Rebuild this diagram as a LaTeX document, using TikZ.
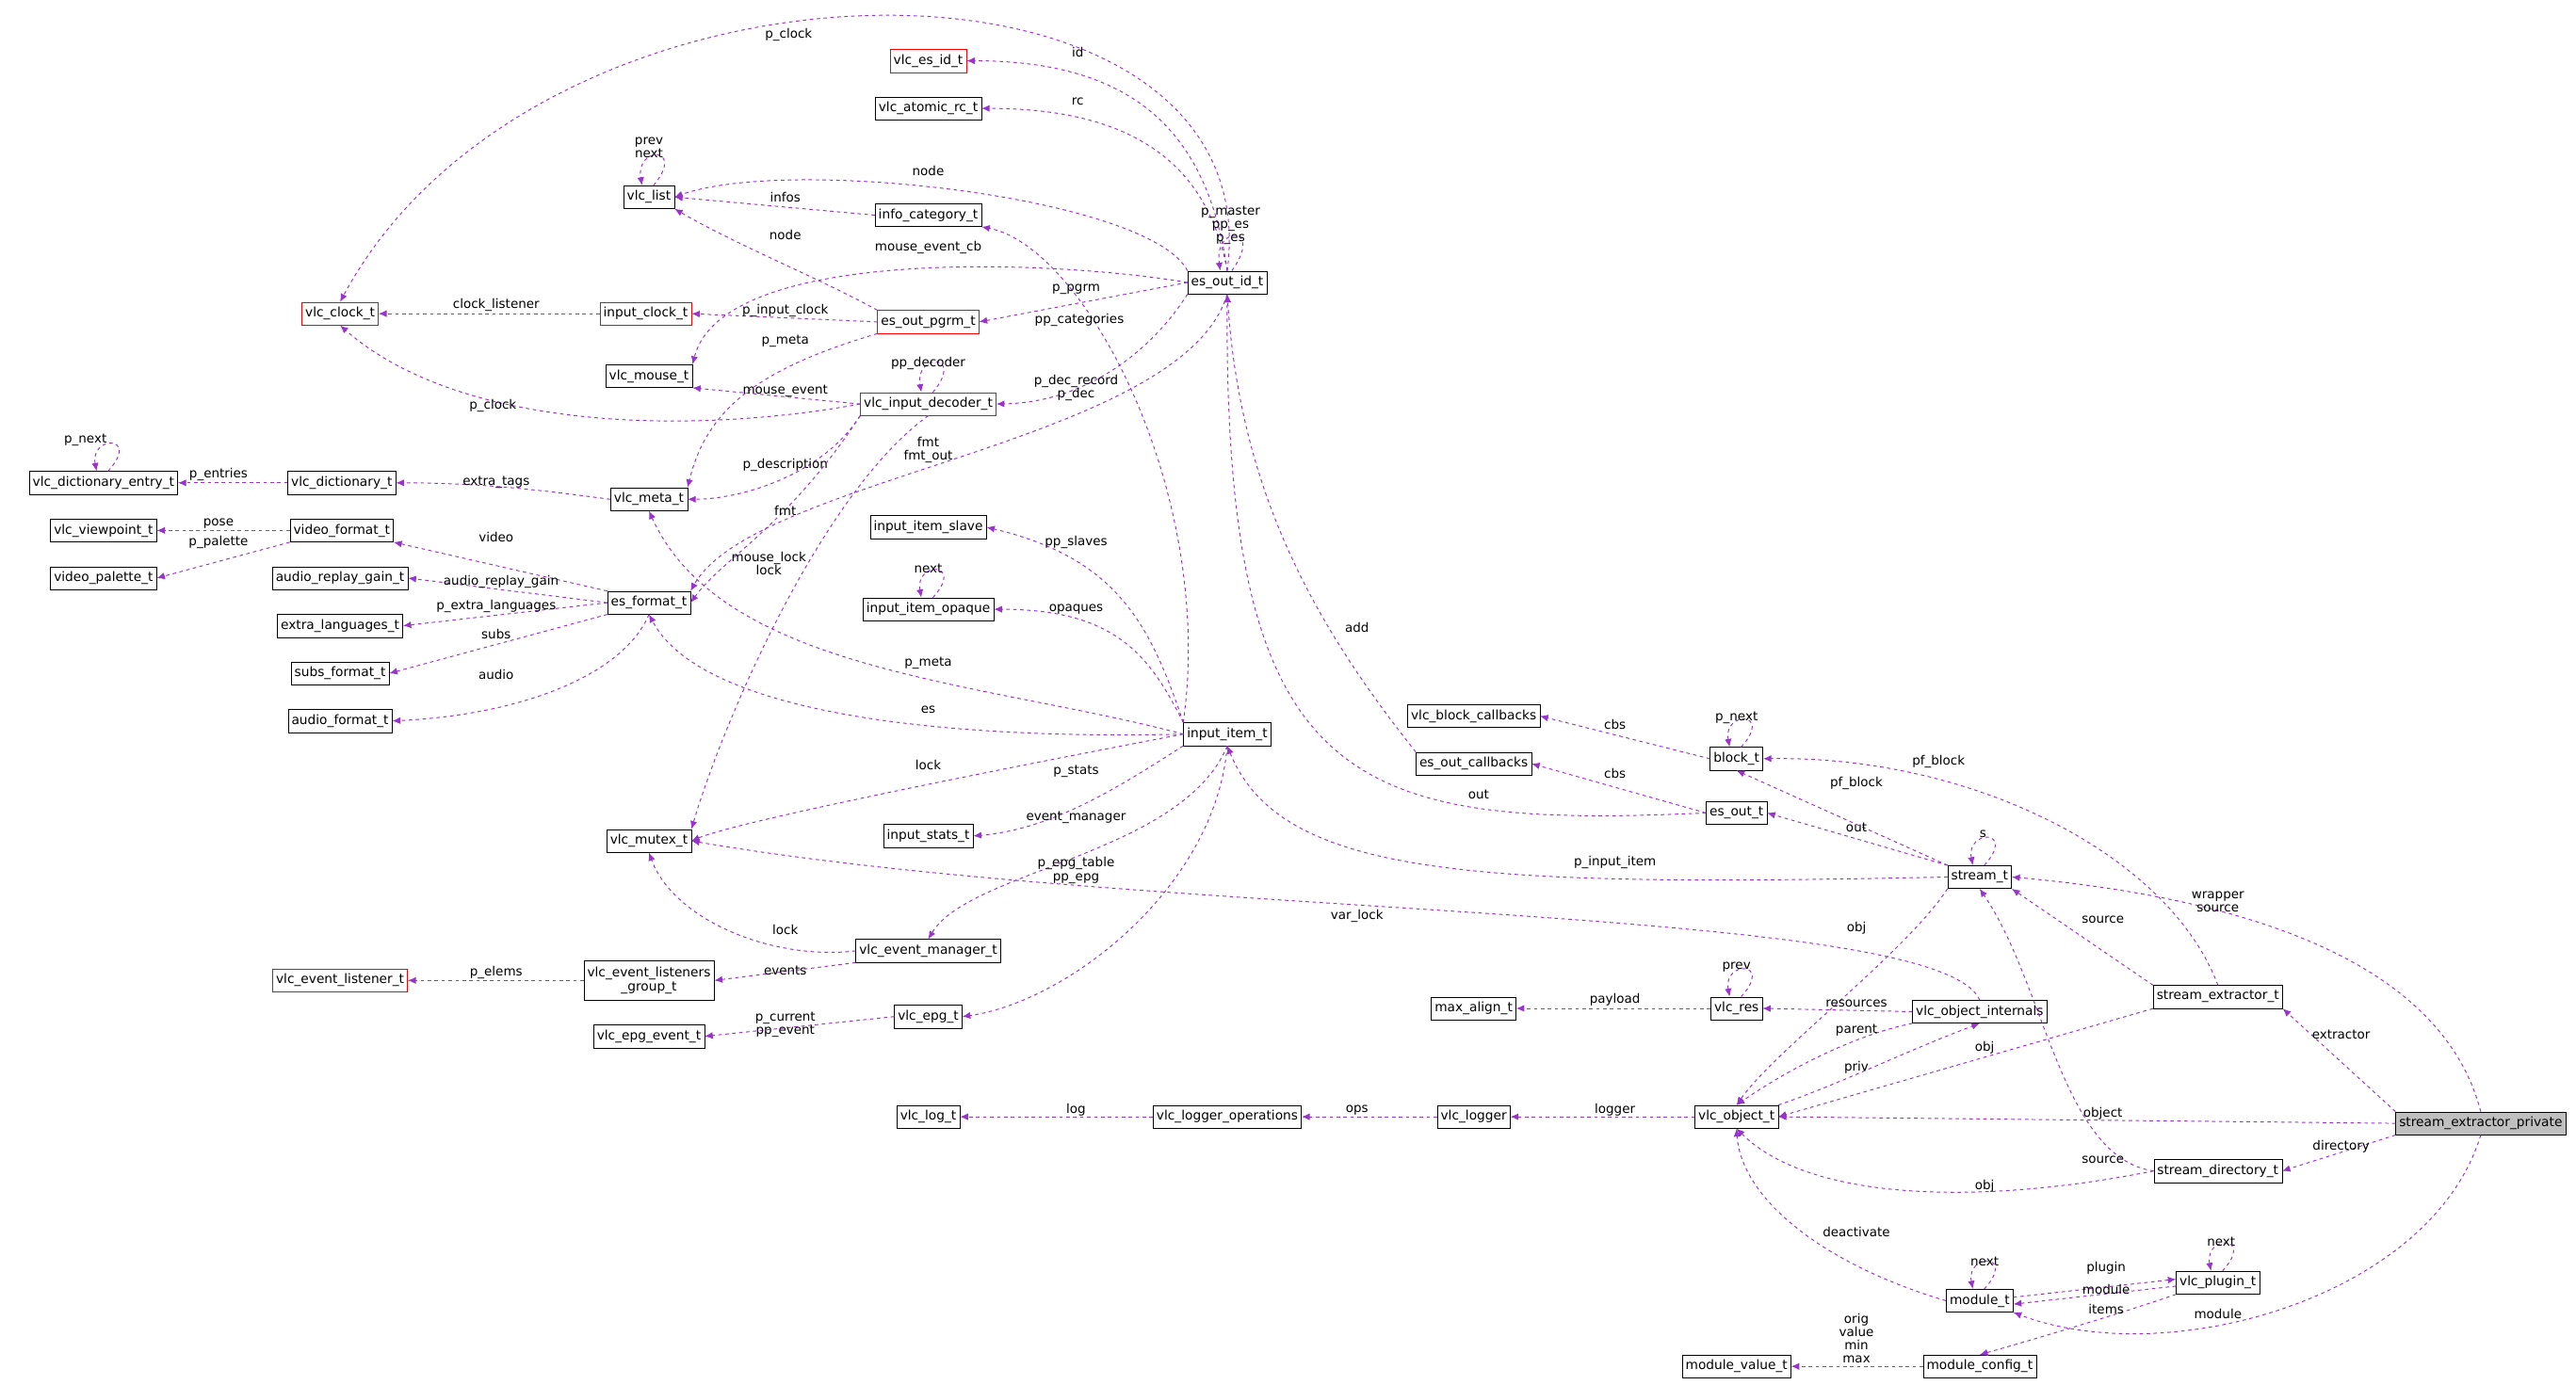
\documentclass[tikz,border=0pt]{standalone}
\usepackage{fontspec}
\setmainfont{DejaVu Sans}
\usetikzlibrary{arrows.meta}
\definecolor{usecol}{HTML}{9A32CD}
\tikzset{
  cls/.style={draw=black, fill=white, inner xsep=3pt, inner ysep=0pt, minimum height=0.7cm, font=\fontsize{11.2}{12.5}\selectfont, align=center},
  redcls/.style={cls, draw=red},
  maincls/.style={cls, fill=black!25},
  use/.style={dashed, usecol, thick, -{Latex[length=7pt,width=6pt]}},
  lbl/.style={black, inner sep=0pt, font=\fontsize{11}{11.5}\selectfont, align=center}
}
\begin{document}
\begin{tikzpicture}[x=0.05cm, y=-0.05cm]
  \useasboundingbox (0,0) rectangle (1568,843);
  % classes
  \node[redcls] (vlc_clock_t) at (207,191) {vlc\_clock\_t};
  \node[redcls] (vlc_es_id_t) at (565,37) {vlc\_es\_id\_t};
  \node[cls] (vlc_atomic_rc_t) at (565,66) {vlc\_atomic\_rc\_t};
  \node[cls] (vlc_list) at (395,120) {vlc\_list};
  \node[cls] (info_category_t) at (565,131) {info\_category\_t};
  \node[redcls] (input_clock_t) at (393,191) {input\_clock\_t};
  \node[redcls] (es_out_pgrm_t) at (565,196) {es\_out\_pgrm\_t};
  \node[cls] (es_out_id_t) at (747,172) {es\_out\_id\_t};
  \node[cls] (vlc_mouse_t) at (395,229) {vlc\_mouse\_t};
  \node[redcls] (vlc_input_decoder_t) at (565,246) {vlc\_input\_decoder\_t};
  \node[cls] (vlc_dictionary_entry_t) at (63,294) {vlc\_dictionary\_entry\_t};
  \node[cls] (vlc_dictionary_t) at (208,294) {vlc\_dictionary\_t};
  \node[cls] (vlc_meta_t) at (395,304) {vlc\_meta\_t};
  \node[cls] (vlc_viewpoint_t) at (63,323) {vlc\_viewpoint\_t};
  \node[cls] (video_format_t) at (208,323) {video\_format\_t};
  \node[cls] (video_palette_t) at (63,352) {video\_palette\_t};
  \node[cls] (input_item_slave) at (565,321) {input\_item\_slave};
  \node[cls] (audio_replay_gain_t) at (207,352) {audio\_replay\_gain\_t};
  \node[cls] (es_format_t) at (395,367) {es\_format\_t};
  \node[cls] (input_item_opaque) at (565,371) {input\_item\_opaque};
  \node[cls] (extra_languages_t) at (207,381) {extra\_languages\_t};
  \node[cls] (subs_format_t) at (207,410) {subs\_format\_t};
  \node[cls] (audio_format_t) at (207,439) {audio\_format\_t};
  \node[cls] (input_item_t) at (747,447) {input\_item\_t};
  \node[cls] (vlc_block_callbacks) at (897,436) {vlc\_block\_callbacks};
  \node[cls] (block_t) at (1057,462) {block\_t};
  \node[cls] (es_out_callbacks) at (897,465) {es\_out\_callbacks};
  \node[cls] (es_out_t) at (1057,495) {es\_out\_t};
  \node[cls] (vlc_mutex_t) at (395,512) {vlc\_mutex\_t};
  \node[cls] (input_stats_t) at (565,509) {input\_stats\_t};
  \node[cls] (stream_t) at (1205,534) {stream\_t};
  \node[redcls] (vlc_event_listener_t) at (207,597) {vlc\_event\_listener\_t};
  \node[cls, minimum height=1.2cm] (vlc_event_listeners_group_t) at (395,597) {vlc\_event\_listeners\\\_group\_t};
  \node[cls] (vlc_event_manager_t) at (565,579) {vlc\_event\_manager\_t};
  \node[cls] (stream_extractor_t) at (1350,607) {stream\_extractor\_t};
  \node[cls] (max_align_t) at (897,614) {max\_align\_t};
  \node[cls] (vlc_res) at (1057,614) {vlc\_res};
  \node[cls] (vlc_object_internals) at (1205,616) {vlc\_object\_internals};
  \node[cls] (vlc_epg_event_t) at (395,631) {vlc\_epg\_event\_t};
  \node[cls] (vlc_epg_t) at (565,619) {vlc\_epg\_t};
  \node[cls] (vlc_log_t) at (565,680) {vlc\_log\_t};
  \node[cls] (vlc_logger_operations) at (747,680) {vlc\_logger\_operations};
  \node[cls] (vlc_logger) at (897,680) {vlc\_logger};
  \node[cls] (vlc_object_t) at (1057,680) {vlc\_object\_t};
  \node[maincls] (stream_extractor_private) at (1510,684) {stream\_extractor\_private};
  \node[cls] (stream_directory_t) at (1350,713) {stream\_directory\_t};
  \node[cls] (vlc_plugin_t) at (1350,781) {vlc\_plugin\_t};
  \node[cls] (module_t) at (1205,792) {module\_t};
  \node[cls] (module_value_t) at (1057,832) {module\_value\_t};
  \node[cls] (module_config_t) at (1205,832) {module\_config\_t};

  % es_out_id_t
  \draw[use] (es_out_id_t.north) .. controls (775,-45) and (330,-45) .. (vlc_clock_t.north) node[lbl] at (480,21) {p\_clock};
  \draw[use] (es_out_id_t.north) .. controls (735,80) and (690,37) .. (vlc_es_id_t.east) node[lbl] at (656,32) {id};
  \draw[use] (es_out_id_t.north) .. controls (735,100) and (690,66) .. (vlc_atomic_rc_t.east) node[lbl] at (656,62) {rc};
  \draw[use] (es_out_id_t.north west) .. controls (700,120) and (480,95) .. (vlc_list.east) node[lbl] at (565,104) {node};
  \draw[use] ([xshift=4pt]es_out_id_t.north) .. controls +(20,-28) and +(-4,-28) .. ([xshift=-6pt]es_out_id_t.north) node[lbl] at (749,137) {p\_master\\pp\_es\\p\_es};
  \draw[use] (es_out_id_t.west) .. controls (640,158) and (440,150) .. (vlc_mouse_t.north east) node[lbl] at (565,151) {mouse\_event\_cb};
  \draw[use] (es_out_id_t.west) -- (es_out_pgrm_t.east) node[lbl] at (655,176) {p\_pgrm};
  \draw[use] (es_out_id_t.south west) .. controls (700,215) and (660,245) .. (vlc_input_decoder_t.east) node[lbl] at (655,236) {p\_dec\_record\\p\_dec};
  \draw[use] (es_out_id_t.south) .. controls (720,270) and (460,290) .. (es_format_t.north east) node[lbl] at (565,274) {fmt\\fmt\_out};
  \draw[use] ([xshift=4pt]vlc_list.north) .. controls +(20,-24) and +(-4,-24) .. ([xshift=-6pt]vlc_list.north) node[lbl] at (395,90) {prev\\next};
  \draw[use] (info_category_t.west) -- (vlc_list.east) node[lbl] at (478,120) {infos};
  % es_out_pgrm_t
  \draw[use] (es_out_pgrm_t.north west) .. controls (500,170) and (450,150) .. (vlc_list.south east) node[lbl] at (478,143) {node};
  \draw[use] (es_out_pgrm_t.west) -- (input_clock_t.east) node[lbl] at (478,189) {p\_input\_clock};
  \draw[use] (es_out_pgrm_t.south west) .. controls (460,225) and (430,250) .. (vlc_meta_t.north east) node[lbl] at (478,208) {p\_meta};
  \draw[use] (input_clock_t.west) -- (vlc_clock_t.east) node[lbl] at (302,186) {clock\_listener};
  % vlc_input_decoder_t
  \draw[use] (vlc_input_decoder_t.west) .. controls (420,265) and (280,262) .. (vlc_clock_t.south) node[lbl] at (300,247) {p\_clock};
  \draw[use] (vlc_input_decoder_t.west) -- (vlc_mouse_t.south east) node[lbl] at (478,238) {mouse\_event};
  \draw[use] ([xshift=4pt]vlc_input_decoder_t.north) .. controls +(20,-24) and +(-4,-24) .. ([xshift=-6pt]vlc_input_decoder_t.north) node[lbl] at (565,221) {pp\_decoder};
  \draw[use] (vlc_input_decoder_t.south west) .. controls (500,290) and (450,304) .. (vlc_meta_t.east) node[lbl] at (478,283) {p\_description};
  \draw[use] (vlc_input_decoder_t.south west) .. controls (480,320) and (440,340) .. (es_format_t.east) node[lbl] at (478,311) {fmt};
  \draw[use] (vlc_input_decoder_t.south) .. controls (500,300) and (440,440) .. (vlc_mutex_t.north east) node[lbl] at (468,343) {mouse\_lock\\lock};
  % dictionaries and formats
  \draw[use] ([xshift=4pt]vlc_dictionary_entry_t.north) .. controls +(20,-22) and +(-4,-22) .. ([xshift=-6pt]vlc_dictionary_entry_t.north) node[lbl] at (52,268) {p\_next};
  \draw[use] (vlc_dictionary_t.west) -- (vlc_dictionary_entry_t.east) node[lbl] at (133,289) {p\_entries};
  \draw[use] (vlc_meta_t.west) .. controls (340,300) and (300,294) .. (vlc_dictionary_t.east) node[lbl] at (302,294) {extra\_tags};
  \draw[use] (video_format_t.west) -- (vlc_viewpoint_t.east) node[lbl] at (133,319) {pose};
  \draw[use] (video_format_t.south west) -- (video_palette_t.east) node[lbl] at (133,330) {p\_palette};
  \draw[use] (es_format_t.north west) -- (video_format_t.south east) node[lbl] at (302,327) {video};
  \draw[use] (es_format_t.west) -- (audio_replay_gain_t.east) node[lbl] at (305,354) {audio\_replay\_gain};
  \draw[use] (es_format_t.west) -- (extra_languages_t.east) node[lbl] at (302,369) {p\_extra\_languages};
  \draw[use] (es_format_t.south west) -- (subs_format_t.east) node[lbl] at (302,386) {subs};
  \draw[use] (es_format_t.south) .. controls (380,410) and (320,435) .. (audio_format_t.east) node[lbl] at (302,411) {audio};
  % input_item_t
  \draw[use] (input_item_t.north west) .. controls (740,300) and (660,150) .. (info_category_t.south east) node[lbl] at (657,195) {pp\_categories};
  \draw[use] (input_item_t.north west) .. controls (700,380) and (680,340) .. (input_item_slave.east) node[lbl] at (655,330) {pp\_slaves};
  \draw[use] ([xshift=4pt]input_item_opaque.north) .. controls +(20,-22) and +(-4,-22) .. ([xshift=-6pt]input_item_opaque.north) node[lbl] at (565,346) {next};
  \draw[use] (input_item_t.north west) .. controls (700,400) and (680,371) .. (input_item_opaque.east) node[lbl] at (655,371) {opaques};
  \draw[use] (input_item_t.west) .. controls (600,415) and (440,410) .. (vlc_meta_t.south) node[lbl] at (565,404) {p\_meta};
  \draw[use] (input_item_t.west) .. controls (600,450) and (430,440) .. (es_format_t.south) node[lbl] at (565,432) {es};
  \draw[use] (input_item_t.west) .. controls (600,470) and (450,500) .. (vlc_mutex_t.east) node[lbl] at (565,466) {lock};
  \draw[use] (input_item_t.south west) .. controls (680,480) and (640,505) .. (input_stats_t.east) node[lbl] at (655,470) {p\_stats};
  \draw[use] (input_item_t.south) .. controls (720,520) and (590,530) .. (vlc_event_manager_t.north) node[lbl] at (655,498) {event\_manager};
  \draw[use] (input_item_t.south) .. controls (740,540) and (650,610) .. (vlc_epg_t.east) node[lbl] at (655,530) {p\_epg\_table\\pp\_epg};
  \draw[use] (vlc_event_manager_t.west) .. controls (470,585) and (410,560) .. (vlc_mutex_t.south) node[lbl] at (478,566) {lock};
  \draw[use] (vlc_event_manager_t.south west) -- (vlc_event_listeners_group_t.east) node[lbl] at (478,591) {events};
  \draw[use] (vlc_event_listeners_group_t.west) -- (vlc_event_listener_t.east) node[lbl] at (302,592) {p\_elems};
  \draw[use] (vlc_epg_t.west) -- (vlc_epg_event_t.east) node[lbl] at (478,624) {p\_current\\pp\_event};
  % block, es_out
  \draw[use] (es_out_callbacks.north west) .. controls (800,380) and (755,300) .. (es_out_id_t.south) node[lbl] at (826,382) {add};
  \draw[use] (block_t.west) -- (vlc_block_callbacks.east) node[lbl] at (983,441) {cbs};
  \draw[use] ([xshift=4pt]block_t.north) .. controls +(20,-22) and +(-4,-22) .. ([xshift=-6pt]block_t.north) node[lbl] at (1057,437) {p\_next};
  \draw[use] (es_out_t.west) -- (es_out_callbacks.east) node[lbl] at (983,471) {cbs};
  \draw[use] (es_out_t.west) .. controls (820,505) and (745,480) .. (es_out_id_t.south) node[lbl] at (900,484) {out};
  % stream_t
  \draw[use] (stream_t.north west) -- (block_t.south) node[lbl] at (1130,477) {pf\_block};
  \draw[use] (stream_t.north west) -- (es_out_t.east) node[lbl] at (1130,504) {out};
  \draw[use] ([xshift=4pt]stream_t.north) .. controls +(20,-22) and +(-4,-22) .. ([xshift=-6pt]stream_t.north) node[lbl] at (1207,508) {s};
  \draw[use] (stream_t.west) .. controls (900,540) and (780,535) .. (input_item_t.south) node[lbl] at (983,525) {p\_input\_item};
  \draw[use] (stream_t.south west) .. controls (1160,580) and (1080,640) .. (vlc_object_t.north) node[lbl] at (1130,565) {obj};
  % object internals
  \draw[use] (vlc_object_internals.north) .. controls (1180,550) and (700,560) .. (vlc_mutex_t.east) node[lbl] at (826,558) {var\_lock};
  \draw[use] (vlc_object_internals.west) -- (vlc_res.east) node[lbl] at (1130,611) {resources};
  \draw[use] (vlc_object_internals.south west) .. controls (1130,630) and (1090,650) .. (vlc_object_t.north) node[lbl] at (1130,627) {parent};
  \draw[use] (vlc_object_t.north east) .. controls (1120,660) and (1160,640) .. (vlc_object_internals.south) node[lbl] at (1130,650) {priv};
  \draw[use] ([xshift=4pt]vlc_res.north) .. controls +(20,-22) and +(-4,-22) .. ([xshift=-6pt]vlc_res.north) node[lbl] at (1057,589) {prev};
  \draw[use] (vlc_res.west) -- (max_align_t.east) node[lbl] at (983,609) {payload};
  % stream extractor
  \draw[use] (stream_extractor_t.north) .. controls (1320,520) and (1200,460) .. (block_t.east) node[lbl] at (1180,464) {pf\_block};
  \draw[use] (stream_extractor_t.north west) -- (stream_t.south east) node[lbl] at (1280,560) {source};
  \draw[use] (stream_extractor_t.south west) -- (vlc_object_t.east) node[lbl] at (1208,638) {obj};
  \draw[use] (stream_extractor_private.north) .. controls (1490,600) and (1400,550) .. (stream_t.east) node[lbl] at (1350,549) {wrapper\\source};
  \draw[use] (stream_extractor_private.north west) -- (stream_extractor_t.south east) node[lbl] at (1425,630) {extractor};
  \draw[use] (stream_extractor_private.west) -- (vlc_object_t.east) node[lbl] at (1280,678) {object};
  \draw[use] (stream_extractor_private.south west) -- (stream_directory_t.east) node[lbl] at (1425,698) {directory};
  \draw[use] (stream_extractor_private.south) .. controls (1480,790) and (1320,835) .. (module_t.south east) node[lbl] at (1350,800) {module};
  \draw[use] (stream_directory_t.west) .. controls (1200,735) and (1100,730) .. (vlc_object_t.south) node[lbl] at (1208,722) {obj};
  \draw[use] (stream_directory_t.west) .. controls (1255,705) and (1245,600) .. (stream_t.south) node[lbl] at (1280,706) {source};
  % logger and modules
  \draw[use] (vlc_object_t.west) -- (vlc_logger.east) node[lbl] at (983,676) {logger};
  \draw[use] (vlc_logger.west) -- (vlc_logger_operations.east) node[lbl] at (826,676) {ops};
  \draw[use] (vlc_logger_operations.west) -- (vlc_log_t.east) node[lbl] at (655,676) {log};
  \draw[use] (module_t.west) .. controls (1110,770) and (1060,730) .. (vlc_object_t.south) node[lbl] at (1130,750) {deactivate};
  \draw[use] ([xshift=4pt]module_t.north) .. controls +(20,-22) and +(-4,-22) .. ([xshift=-6pt]module_t.north) node[lbl] at (1208,768) {next};
  \draw[use] ([yshift=3pt]module_t.east) -- ([yshift=3pt]vlc_plugin_t.west) node[lbl] at (1282,772) {plugin};
  \draw[use] ([yshift=-3pt]vlc_plugin_t.west) -- ([yshift=-3pt]module_t.east) node[lbl] at (1282,785) {module};
  \draw[use] ([xshift=4pt]vlc_plugin_t.north) .. controls +(20,-22) and +(-4,-22) .. ([xshift=-6pt]vlc_plugin_t.north) node[lbl] at (1352,756) {next};
  \draw[use] (vlc_plugin_t.south west) .. controls (1290,800) and (1240,815) .. (module_config_t.north) node[lbl] at (1282,797) {items};
  \draw[use] (module_config_t.west) -- (module_value_t.east) node[lbl] at (1130,815) {orig\\value\\min\\max};
\end{tikzpicture}
\end{document}
